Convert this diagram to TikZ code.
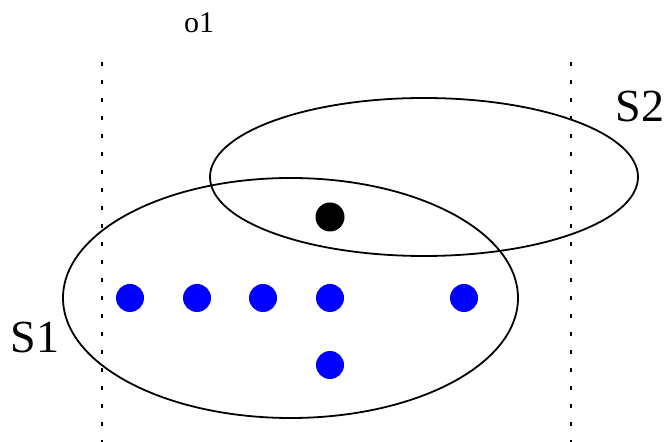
\documentclass[tikz,border=0pt]{standalone}
\usepackage{fontspec}
\setmainfont{Liberation Serif}
\usetikzlibrary{shapes.geometric}

\begin{document}
\begin{tikzpicture}[x=0.5pt, y=-0.5pt,
  set/.style={draw, ellipse, line width=0.9pt, inner sep=0pt},
  elem/.style={circle, fill=blue, inner sep=0pt, minimum size=14pt},
  hit/.style={circle, fill=black, inner sep=0pt, minimum size=14.5pt},
  setlabel/.style={font=\fontsize{23}{27}\selectfont, inner sep=0pt},
  bound/.style={line width=1pt, dash pattern=on 2pt off 7pt}]

  \useasboundingbox (0,0) rectangle (669,442);

  % dotted bounds
  \coordinate (lt) at (102,62);
  \coordinate (lb) at (102,442);
  \coordinate (rt) at (571,62);
  \coordinate (rb) at (571,442);
  \draw[bound] (lt) -- (lb);
  \draw[bound] (rt) -- (rb);

  \node[font=\fontsize{15}{18}\selectfont, inner sep=0pt] (o1) at (199,23) {o1};

  % the two sets
  \node[set, minimum width=227.5pt, minimum height=120pt] (s1) at (290.5,298) {};
  \node[set, minimum width=214pt, minimum height=79pt] (s2) at (424,177) {};

  \node[setlabel] (s1lab) at (35,337) {S1};
  \node[setlabel] (s2lab) at (640,107) {S2};

  % members
  \node[hit] (h) at (330,217) {};
  \node[elem] (e1) at (130,298) {};
  \node[elem] (e2) at (197,298) {};
  \node[elem] (e3) at (263,298) {};
  \node[elem] (e4) at (330,298) {};
  \node[elem] (e5) at (464,298) {};
  \node[elem] (e6) at (330,365) {};
\end{tikzpicture}
\end{document}
